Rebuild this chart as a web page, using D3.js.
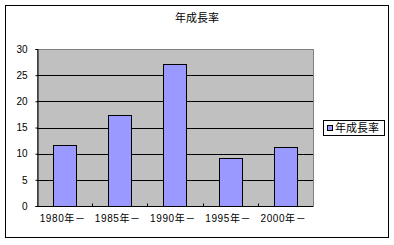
<!DOCTYPE html>
<html>
<head>
<meta charset="utf-8">
<script src="https://cdn.jsdelivr.net/npm/d3@7"></script>
<style>
  body { margin: 0; background: #fff; }
  text { font-family: "Liberation Sans", "Noto Sans CJK JP", sans-serif; }
</style>
</head>
<body>
<svg width="394" height="245"></svg>
<script>
var title = "年成長率";
var categories = ["1980年－", "1985年－", "1990年－", "1995年－", "2000年－"];
var values = [11.6, 17.3, 27.1, 9.2, 11.2];
var yTicks = [0, 5, 10, 15, 20, 25, 30];

var svg = d3.select("svg"),
    margin = {top: 49, right: 81, bottom: 39, left: 37},
    width = 394 - margin.left - margin.right,
    height = 245 - margin.top - margin.bottom;

// outer chart frame
svg.append("rect")
    .attr("x", 5.5).attr("y", 5.5)
    .attr("width", 383).attr("height", 232)
    .attr("fill", "#fff")
    .attr("stroke", "#000");

svg.append("text")
    .attr("x", 197).attr("y", 22)
    .attr("text-anchor", "middle")
    .style("font-family", "'Noto Sans CJK JP', sans-serif")
    .style("font-size", "11px")
    .text(title);

var g = svg.append("g")
    .attr("transform", "translate(" + margin.left + "," + margin.top + ")");

var x = d3.scaleBand()
    .domain(categories)
    .range([0, width])
    .paddingInner(0.58)
    .paddingOuter(0.29);

var y = d3.scaleLinear()
    .domain([0, 30])
    .range([height, 0]);

// plot area
g.append("rect")
    .attr("x", 0.5).attr("y", 0.5)
    .attr("width", width).attr("height", height)
    .attr("fill", "#c0c0c0")
    .attr("stroke", "#808080");

// gridlines
g.selectAll(".grid")
  .data(yTicks.filter(function(d) { return d > 0 && d < 30; }))
  .enter().append("line")
    .attr("x1", 0).attr("x2", width)
    .attr("y1", function(d) { return Math.round(y(d)) + 0.5; })
    .attr("y2", function(d) { return Math.round(y(d)) + 0.5; })
    .attr("stroke", "#000");

g.selectAll(".bar")
  .data(values)
  .enter().append("rect")
    .attr("x", function(d, i) { return Math.round(x(categories[i])) + 0.5; })
    .attr("y", function(d) { return Math.round(y(d)) + 0.5; })
    .attr("width", Math.round(x.bandwidth()))
    .attr("height", function(d) { return Math.round(height - y(d)); })
    .attr("fill", "#9999ff")
    .attr("stroke", "#000");

// y axis
var yAxis = d3.axisLeft(y).tickValues(yTicks).tickSize(2).tickPadding(8);
var ya = g.append("g").attr("transform", "translate(0.5,0)").call(yAxis);
ya.select(".domain").attr("stroke", "#000");
ya.selectAll("text").style("font-size", "10px").attr("fill", "#000");

// x axis with ticks on category boundaries pointing inward
var step = x.step();
var xa = g.append("g").attr("transform", "translate(0," + (Math.round(height) + 0.5) + ")");
xa.append("line").attr("x1", 0).attr("x2", width).attr("stroke", "#000");
xa.selectAll(".tk")
  .data(categories.slice(1))
  .enter().append("line")
    .attr("x1", function(d) { return Math.round(x(d) - x.paddingInner() * step / 2) + 0.5; })
    .attr("x2", function(d) { return Math.round(x(d) - x.paddingInner() * step / 2) + 0.5; })
    .attr("y1", 0).attr("y2", -3)
    .attr("stroke", "#000");
xa.selectAll(".lbl")
  .data(categories)
  .enter().append("text")
    .attr("x", function(d) { return x(d) + x.bandwidth() / 2 - 2; })
    .attr("y", 15)
    .attr("text-anchor", "middle")
    .style("font-size", "10px")
    .style("letter-spacing", "0.6px")
    .text(function(d) { return d; });

// legend
var lg = svg.append("g").attr("transform", "translate(323,120)");
lg.append("rect")
    .attr("x", 0.5).attr("y", 0.5)
    .attr("width", 61).attr("height", 15)
    .attr("fill", "#fff")
    .attr("stroke", "#000");
lg.append("rect")
    .attr("x", 4.5).attr("y", 5.5)
    .attr("width", 5).attr("height", 5)
    .attr("fill", "#9999ff")
    .attr("stroke", "#000");
lg.append("text")
    .attr("x", 12).attr("y", 12)
    .style("font-family", "'Noto Sans CJK JP', sans-serif")
    .style("font-size", "11px")
    .text(title);
</script>
</body>
</html>
